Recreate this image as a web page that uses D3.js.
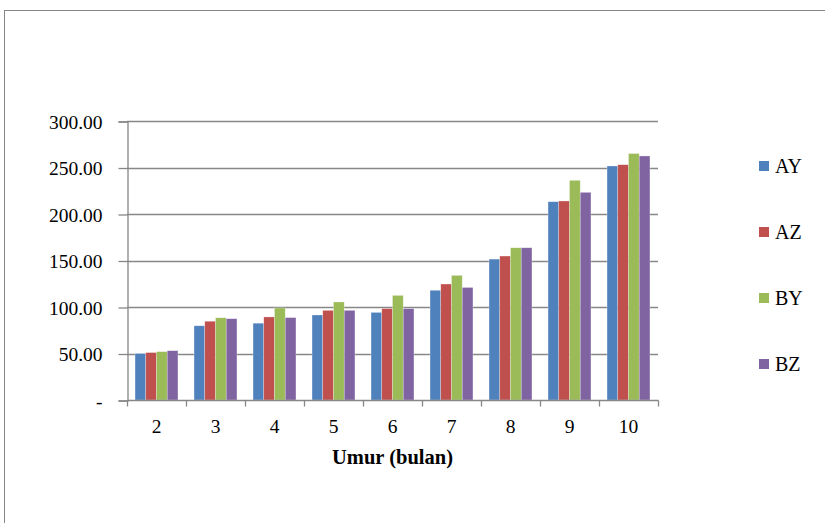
<!DOCTYPE html>
<html>
<head>
<meta charset="utf-8">
<script src="https://cdn.jsdelivr.net/npm/d3@7"></script>
<style>
  html, body { margin: 0; padding: 0; background: #fff; }
  svg { display: block; }
  svg text { font-family: "Liberation Serif", Tinos, "Times New Roman", Times, "DejaVu Serif", serif; fill: #000; }
</style>
</head>
<body>
<svg id="chart" width="825" height="523"></svg>
<script>
// Age in months (category axis)
const categories = ["2", "3", "4", "5", "6", "7", "8", "9", "10"];
const seriesNames = ["AY", "AZ", "BY", "BZ"];
const seriesColors = ["#4F81BD", "#C0504D", "#9BBB59", "#8064A2"];
const valuesAY = [50.0, 79.8, 82.6, 91.4, 94.2, 118.0, 151.5, 213.2, 251.6];
const valuesAZ = [51.0, 84.7, 89.3, 96.4, 98.3, 124.7, 154.8, 214.0, 253.0];
const valuesBY = [52.0, 88.4, 99.0, 105.4, 112.5, 134.0, 163.7, 236.2, 265.0];
const valuesBZ = [53.0, 87.4, 88.6, 96.4, 98.3, 121.0, 163.7, 223.3, 262.4];
const yTicks = [0, 50, 100, 150, 200, 250, 300];
const xTitle = "Umur (bulan)";

const seriesValues = [valuesAY, valuesAZ, valuesBY, valuesBZ];
const rows = categories.map((c, i) => ({
  cat: c,
  vals: seriesNames.map((s, j) => ({ key: s, value: seriesValues[j][i], color: seriesColors[j] }))
}));

const svg = d3.select("#chart");
const grid = "#878787";
const serif = "'Liberation Serif', Tinos, 'Times New Roman', Times, serif";

// outer chart frame
svg.append("rect")
  .attr("x", 4.5).attr("y", 10.5)
  .attr("width", 840).attr("height", 540)
  .attr("fill", "none").attr("stroke", grid).attr("stroke-width", 1);

const plot = { left: 127, right: 658, top: 121, bottom: 400 };

const x = d3.scaleBand().domain(categories).range([plot.left, plot.right]).paddingInner(0).paddingOuter(0);
const gap = 1.5; // gap width relative to one bar
const barW = x.bandwidth() / (seriesNames.length + gap);
const xs = d3.scaleBand().domain(seriesNames)
  .range([barW * gap / 2, barW * gap / 2 + barW * seriesNames.length]);
const y = d3.scaleLinear().domain([0, 300]).range([plot.bottom, plot.top]);

// horizontal gridlines
svg.append("g").selectAll("line")
  .data(yTicks.filter(t => t > 0))
  .join("line")
  .attr("x1", plot.left).attr("x2", plot.right)
  .attr("y1", d => Math.round(y(d)) + 0.5).attr("y2", d => Math.round(y(d)) + 0.5)
  .attr("stroke", grid).attr("stroke-width", 1.3);

// bars
const groups = svg.append("g").selectAll("g")
  .data(rows).join("g")
  .attr("transform", d => `translate(${x(d.cat)},0)`);
groups.selectAll("rect")
  .data(d => d.vals).join("rect")
  .attr("x", d => xs(d.key))
  .attr("width", xs.bandwidth())
  .attr("y", d => y(d.value))
  .attr("height", d => y(0) - y(d.value))
  .attr("fill", d => d.color)
  .attr("stroke", "rgba(255,255,255,0.45)")
  .attr("stroke-width", 0.6);

// y axis
const yAxis = d3.axisLeft(y).tickValues(yTicks).tickSize(9).tickPadding(16)
  .tickFormat(d => d === 0 ? "-" : d3.format(".2f")(d));
const gy = svg.append("g").attr("transform", `translate(${plot.left + 0.5},0.5)`).call(yAxis)
  .attr("font-family", serif).attr("font-size", 19.5);
gy.select(".domain").attr("stroke", grid).attr("stroke-width", 1.3);
gy.selectAll(".tick line").attr("stroke", grid).attr("stroke-width", 1.3);
gy.selectAll(".tick text").attr("fill", "#000").attr("dy", "0.34em");

// x axis: ticks at category boundaries
const gx = svg.append("g").attr("transform", `translate(0,${plot.bottom + 0.5})`);
gx.append("line").attr("x1", plot.left).attr("x2", plot.right + 0.5)
  .attr("stroke", grid).attr("stroke-width", 1.3);
const bounds = categories.map(c => x(c)).concat([plot.right]);
gx.selectAll("line.tk").data(bounds).join("line").attr("class", "tk")
  .attr("x1", d => Math.round(d) + 0.5).attr("x2", d => Math.round(d) + 0.5)
  .attr("y1", 0).attr("y2", 6)
  .attr("stroke", grid).attr("stroke-width", 1.3);
gx.selectAll("text").data(categories).join("text")
  .attr("x", d => x(d) + x.bandwidth() / 2)
  .attr("y", 32)
  .attr("text-anchor", "middle")
  .attr("font-family", serif)
  .attr("font-size", 19.5)
  .text(d => d);

// x axis title
svg.append("text")
  .attr("x", (plot.left + plot.right) / 2)
  .attr("y", 464)
  .attr("text-anchor", "middle")
  .attr("font-family", serif)
  .attr("font-size", 20.5)
  .attr("font-weight", "bold")
  .text(xTitle);

// legend
const legend = svg.append("g").selectAll("g")
  .data(seriesNames).join("g")
  .attr("transform", (d, i) => `translate(759,${166 + i * 66})`);
legend.append("rect")
  .attr("x", 0).attr("y", -5).attr("width", 10).attr("height", 10)
  .attr("fill", (d, i) => seriesColors[i]);
legend.append("text")
  .attr("x", 16).attr("y", 6.5)
  .attr("font-family", serif)
  .attr("font-size", 20)
  .text(d => d);
</script>
</body>
</html>
